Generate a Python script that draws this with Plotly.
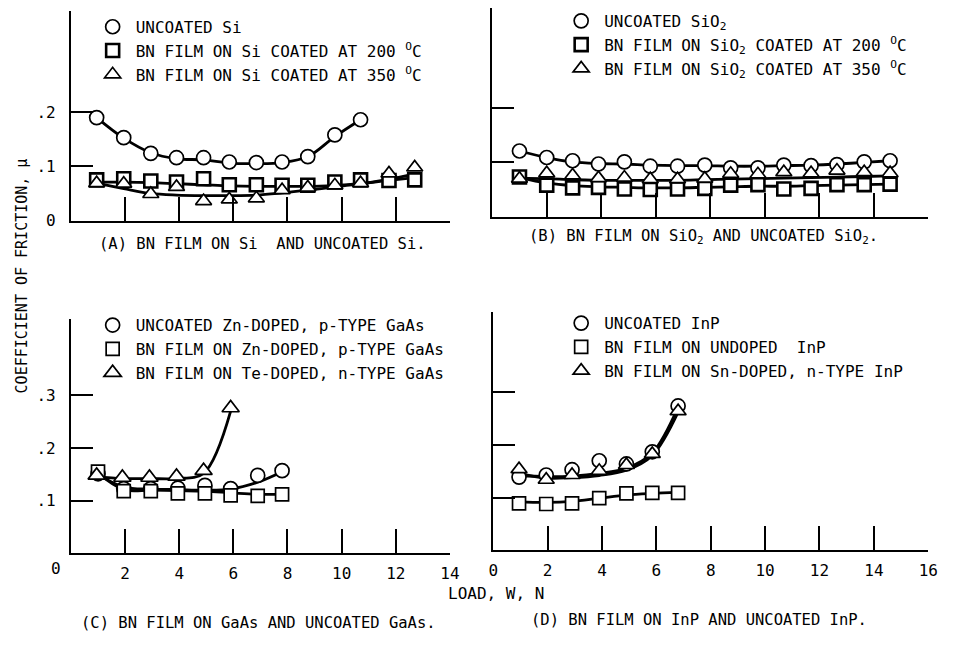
import plotly.graph_objects as go

W, H = 954, 648
FONT = "DejaVu Sans Mono"

# ---------------- data ----------------
# Panel A: BN film on Si and uncoated Si
A_x = [0.95, 1.95, 2.95, 3.9, 4.9, 5.85, 6.85, 7.8, 8.75, 9.75, 10.7, 11.75, 12.7]
A_uncoated = [0.190, 0.153, 0.124, 0.116, 0.116, 0.108, 0.107, 0.108, 0.118, 0.158, 0.186]
A_bn200 = [0.075, 0.077, 0.073, 0.071, 0.077, 0.066, 0.066, 0.065, 0.065, 0.071, 0.075, 0.074, 0.075]
A_bn350 = [0.069, 0.068, 0.049, 0.062, 0.036, 0.039, 0.041, 0.056, 0.061, 0.065, 0.069, 0.087, 0.098]
A_uncoated_fit = [0.190, 0.152, 0.125, 0.114, 0.112, 0.106, 0.105, 0.107, 0.118, 0.155, 0.186]
A_bn200_fit = [0.071, 0.071, 0.070, 0.068, 0.066, 0.064, 0.063, 0.063, 0.063, 0.065, 0.068, 0.074, 0.079]
A_bn350_fit = [0.069, 0.059, 0.050, 0.047, 0.046, 0.046, 0.047, 0.051, 0.056, 0.062, 0.068, 0.076, 0.086]

# Panel B: BN film on SiO2 and uncoated SiO2
B_x = [1.0, 2.0, 2.95, 3.9, 4.85, 5.8, 6.8, 7.8, 8.75, 9.75, 10.7, 11.7, 12.65, 13.65, 14.6]
B_uncoated = [0.121, 0.109, 0.103, 0.097, 0.101, 0.093, 0.093, 0.095, 0.090, 0.090, 0.095, 0.094, 0.096, 0.101, 0.103]
B_bn200 = [0.073, 0.058, 0.053, 0.054, 0.051, 0.050, 0.051, 0.052, 0.058, 0.059, 0.051, 0.052, 0.059, 0.059, 0.060]
B_bn350 = [0.070, 0.080, 0.076, 0.071, 0.072, 0.069, 0.069, 0.070, 0.079, 0.078, 0.082, 0.080, 0.085, 0.082, 0.080]
B_uncoated_fit = [0.121, 0.109, 0.101, 0.098, 0.097, 0.095, 0.094, 0.094, 0.093, 0.093, 0.094, 0.095, 0.097, 0.100, 0.103]
B_bn200_fit = [0.072, 0.062, 0.057, 0.055, 0.054, 0.053, 0.053, 0.054, 0.055, 0.056, 0.056, 0.057, 0.058, 0.059, 0.060]
B_bn350_fit = [0.071, 0.070, 0.068, 0.067, 0.067, 0.067, 0.067, 0.068, 0.069, 0.070, 0.071, 0.072, 0.073, 0.074, 0.075]

# Panel C: BN film on GaAs and uncoated GaAs
C_x = [1.0, 1.95, 2.95, 3.95, 4.95, 5.9, 6.9, 7.8]
C_uncoated = [0.151, 0.123, 0.123, 0.124, 0.129, 0.123, 0.148, 0.157]
C_bn_zn = [0.155, 0.118, 0.118, 0.114, 0.114, 0.110, 0.109, 0.112]
C_tri_x = [0.95, 1.9, 2.9, 3.9, 4.9, 5.9]
C_bn_te = [0.148, 0.144, 0.144, 0.146, 0.157, 0.276]
C_uncoated_fit = [0.150, 0.126, 0.122, 0.121, 0.120, 0.122, 0.135, 0.155]
C_bn_zn_fit = [0.152, 0.121, 0.120, 0.119, 0.118, 0.115, 0.112, 0.112]
C_bn_te_fit = [0.145, 0.142, 0.142, 0.142, 0.152, 0.270]

# Panel D: BN film on InP and uncoated InP
D_x = [0.95, 1.95, 2.9, 3.9, 4.9, 5.85, 6.8]
D_uncoated = [0.139, 0.143, 0.153, 0.170, 0.164, 0.187, 0.274]
D_bn_undoped = [0.089, 0.088, 0.089, 0.099, 0.108, 0.109, 0.109]
D_bn_sn = [0.154, 0.134, 0.143, 0.151, 0.162, 0.183, 0.264]
D_uncoated_fit = [0.142, 0.140, 0.141, 0.146, 0.156, 0.185, 0.272]
D_bn_undoped_fit = [0.092, 0.091, 0.093, 0.099, 0.105, 0.108, 0.110]
D_bn_sn_fit = [0.146, 0.137, 0.138, 0.142, 0.152, 0.180, 0.262]

# tick labels
A_ytick_vals = [0, 0.1, 0.2]
A_ytick_text = ["0", ".1", ".2"]
C_ytick_vals = [0.1, 0.2, 0.3]
C_ytick_text = [".1", ".2", ".3"]
CD_x14_ticks = [2, 4, 6, 8, 10, 12, 14]
BD_x16_ticks = [0, 2, 4, 6, 8, 10, 12, 14, 16]

# ---------------- figure ----------------
fig = go.Figure()

def px(x):
    return x / W

def py(y):
    return 1 - y / H

def add_series(xa, ya, legend, x, y, fit, name, symbol, size, lw):
    fig.add_trace(go.Scatter(
        x=x[:len(fit)], y=fit, xaxis=xa, yaxis=ya, mode="lines",
        line=dict(color="black", width=2.8, shape="spline", smoothing=1.0),
        showlegend=False, hoverinfo="skip"))
    return dict(x=x[:len(y)], y=y, xaxis=xa, yaxis=ya, mode="markers", name=name,
                legend=legend,
                marker=dict(symbol=symbol, size=size, color="white",
                            line=dict(color="black", width=lw)))

markers = []
# A
markers.append(add_series("x", "y", "legend", A_x, A_uncoated, A_uncoated_fit,
                          "UNCOATED Si", "circle", 14, 1.7))
markers.append(add_series("x", "y", "legend", A_x, A_bn200, A_bn200_fit,
                          "BN FILM ON Si COATED AT 200 <sup>O</sup>C", "square", 13, 2.6))
markers.append(add_series("x", "y", "legend", A_x, A_bn350, A_bn350_fit,
                          "BN FILM ON Si COATED AT 350 <sup>O</sup>C", "triangle-up", 14, 1.7))
# B
markers.append(add_series("x2", "y2", "legend2", B_x, B_uncoated, B_uncoated_fit,
                          "UNCOATED SiO<sub>2</sub>", "circle", 14, 1.7))
markers.append(add_series("x2", "y2", "legend2", B_x, B_bn200, B_bn200_fit,
                          "BN FILM ON SiO<sub>2</sub> COATED AT 200 <sup>O</sup>C", "square", 13, 2.6))
markers.append(add_series("x2", "y2", "legend2", B_x, B_bn350, B_bn350_fit,
                          "BN FILM ON SiO<sub>2</sub> COATED AT 350 <sup>O</sup>C", "triangle-up", 14, 1.7))
# C
markers.append(add_series("x3", "y3", "legend3", C_x, C_uncoated, C_uncoated_fit,
                          "UNCOATED Zn-DOPED, p-TYPE GaAs", "circle", 14, 1.7))
markers.append(add_series("x3", "y3", "legend3", C_x, C_bn_zn, C_bn_zn_fit,
                          "BN FILM ON Zn-DOPED, p-TYPE GaAs", "square", 13, 1.7))
markers.append(add_series("x3", "y3", "legend3", C_tri_x, C_bn_te, C_bn_te_fit,
                          "BN FILM ON Te-DOPED, n-TYPE GaAs", "triangle-up", 15, 1.7))
# D
markers.append(add_series("x4", "y4", "legend4", D_x, D_uncoated, D_uncoated_fit,
                          "UNCOATED InP", "circle", 14, 1.7))
markers.append(add_series("x4", "y4", "legend4", D_x, D_bn_undoped, D_bn_undoped_fit,
                          "BN FILM ON UNDOPED\u00a0 InP", "square", 13, 1.7))
markers.append(add_series("x4", "y4", "legend4", D_x, D_bn_sn, D_bn_sn_fit,
                          "BN FILM ON Sn-DOPED, n-TYPE InP", "triangle-up", 14, 1.7))

for i, m in enumerate(markers):
    fig.add_trace(go.Scatter(**m, legendgroup=f"g{i}", hoverinfo="x+y"))

axis_common = dict(showline=True, linecolor="black", linewidth=2, showgrid=False,
                   zeroline=False, ticks="inside", tickcolor="black", tickwidth=2,
                   tickfont=dict(family=FONT, size=16, color="black"))

def xax(dom, rng, tickvals, labels, anchor):
    d = dict(axis_common)
    d.update(domain=[px(dom[0]), px(dom[1])], range=rng, tickvals=tickvals,
             ticktext=[str(v) for v in tickvals], showticklabels=labels,
             ticklen=24, anchor=anchor, ticklabelstandoff=4)
    return d

def yax(dom_bottom, dom_top, rng, tickvals, ticktext, labels, anchor):
    d = dict(axis_common)
    d.update(domain=[py(dom_bottom), py(dom_top)], range=rng, tickvals=tickvals,
             ticktext=ticktext, showticklabels=labels, ticklen=22, anchor=anchor,
             ticklabelstandoff=10)
    return d

leg_common = dict(font=dict(family=FONT, size=16, color="black"), bgcolor="rgba(0,0,0,0)",
                  traceorder="grouped", tracegroupgap=0, itemwidth=36,
                  xanchor="left", yanchor="top", itemclick=False, itemdoubleclick=False)

def leg(x, y):
    d = dict(leg_common)
    d.update(x=px(x), y=py(y))
    return d

fig.update_layout(
    width=W, height=H, margin=dict(l=0, r=0, t=0, b=0),
    paper_bgcolor="white", plot_bgcolor="white",
    font=dict(family=FONT, color="black"),
    xaxis=xax((67, 452), [0, 14], CD_x14_ticks, False, "y"),
    yaxis=yax(224, 11, [0, 0.387], A_ytick_vals, A_ytick_text, True, "x"),
    xaxis2=xax((495, 938), [0, 16], BD_x16_ticks[1:], False, "y2"),
    yaxis2=yax(220, 8, [0, 0.385], [0.1, 0.2], [".1", ".2"], False, "x2"),
    xaxis3=xax((67, 452), [0, 14], CD_x14_ticks, True, "y3"),
    yaxis3=yax(562, 324, [0, 0.445], C_ytick_vals, C_ytick_text, True, "x3"),
    xaxis4=xax((496, 938), [0, 16], BD_x16_ticks, True, "y4"),
    yaxis4=yax(559, 317, [0, 0.452], C_ytick_vals, C_ytick_text, False, "x4"),
    legend=leg(86, 10),
    legend2=leg(562, 4),
    legend3=leg(86, 313),
    legend4=leg(562, 311),
    showlegend=True,
)

def ann(text, x, y, size=15, angle=0, xanchor="center"):
    fig.add_annotation(text=text, x=px(x), y=py(y), xref="paper", yref="paper",
                       showarrow=False, textangle=angle, xanchor=xanchor, yanchor="middle",
                       font=dict(family=FONT, size=size, color="black"))

ann("(A) BN FILM ON Si  AND UNCOATED Si.", 262, 248, 15.5)
ann("(B) BN FILM ON SiO<sub>2</sub> AND UNCOATED SiO<sub>2</sub>.", 710, 241, 15.5)
ann("(C) BN FILM ON GaAs AND UNCOATED GaAs.", 258, 633, 15.5)
ann("(D) BN FILM ON InP AND UNCOATED InP.", 705, 630, 15.5)
ann("COEFFICIENT OF FRICTION, \u03bc", 17, 280, 15, angle=-90)
ann("LOAD, W, N", 499, 603, 16)
ann("0", 52, 577, 16)

fig.write_html("out.html")
